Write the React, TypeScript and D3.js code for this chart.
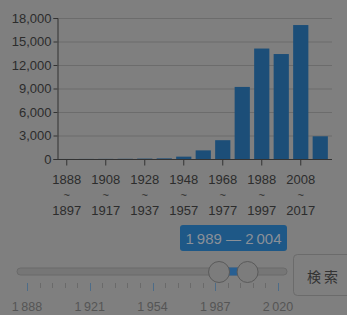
import React, { useEffect, useRef } from "react";
import * as d3 from "d3";

const decades = [1888, 1898, 1908, 1918, 1928, 1938, 1948, 1958, 1968, 1978, 1988, 1998, 2008, 2018];
const counts = [5, 10, 15, 25, 50, 80, 300, 1100, 2400, 9200, 14100, 13400, 17100, 2900];
const yTicks = [0, 3000, 6000, 9000, 12000, 15000, 18000];
const sliderLabels = [1888, 1921, 1954, 1987, 2020];
const selected = [1989, 2004];

const W = 347;
const H = 315;

export default function App() {
  const ref = useRef<SVGSVGElement | null>(null);

  useEffect(() => {
    const svg = d3.select(ref.current);
    svg.selectAll("*").remove();

    const font = "'Liberation Sans', Arial, sans-serif";
    const textCol = "#2c2c2c";

    svg.append("rect").attr("width", W).attr("height", H).attr("fill", "#7f7f7f");

    // bar chart
    const x = d3
      .scaleBand<number>()
      .domain(decades)
      .range([57, 330])
      .paddingInner(0.22)
      .paddingOuter(0.11);

    const y = d3.scaleLinear().domain([0, 18000]).range([159, 18]);

    // grid
    svg
      .append("g")
      .selectAll("line")
      .data(yTicks.filter((d) => d > 0))
      .join("line")
      .attr("x1", 58)
      .attr("x2", 332)
      .attr("y1", (d) => y(d) + 0.5)
      .attr("y2", (d) => y(d) + 0.5)
      .attr("stroke", "#6c6c6c");

    const yAxis = svg
      .append("g")
      .attr("transform", "translate(57.5,0)")
      .call(
        d3
          .axisLeft(y)
          .tickValues(yTicks)
          .tickSize(4)
          .tickFormat((d) => d3.format(",")(d as number))
      );
    yAxis.select(".domain").attr("stroke", "#333");
    yAxis.selectAll(".tick line").attr("stroke", "#333");
    yAxis
      .selectAll(".tick text")
      .attr("fill", textCol)
      .attr("font-family", font)
      .attr("font-size", 13)
      .attr("x", -6);

    svg
      .append("g")
      .selectAll("rect")
      .data(decades)
      .join("rect")
      .attr("x", (d) => x(d)!)
      .attr("width", x.bandwidth())
      .attr("y", (d, i) => y(counts[i]))
      .attr("height", (d, i) => 159 - y(counts[i]))
      .attr("fill", "#1c4e78");

    const xAxis = svg
      .append("g")
      .attr("transform", "translate(0,159.5)")
      .call(
        d3
          .axisBottom(x)
          .tickValues(decades.filter((d, i) => i % 2 === 0))
          .tickSize(6)
          .tickSizeOuter(0)
          .tickFormat(() => "")
      );
    xAxis.select(".domain").attr("stroke", "#333").attr("d", "M57,0H332");
    xAxis.selectAll(".tick line").attr("stroke", "#333");

    const lbl = xAxis.selectAll<SVGGElement, number>(".tick");
    lbl.selectAll("text").remove();
    const addLine = (yy: number, size: number, fn: (d: number) => string) =>
      lbl
        .append("text")
        .attr("fill", textCol)
        .attr("font-family", font)
        .attr("font-size", size)
        .attr("text-anchor", "middle")
        .attr("y", yy)
        .text(fn);
    addLine(24.5, 13, (d) => String(d));
    addLine(39, 11, () => "~");
    addLine(55.5, 13, (d) => String(d + 9));

    // range slider
    const s = d3.scaleLinear().domain([1888, 2020]).range([27, 278]);
    const fmt = (v: number) => d3.format(",")(v).replace(",", "\u2009");

    svg
      .append("rect")
      .attr("x", 180)
      .attr("y", 225)
      .attr("width", 107)
      .attr("height", 26)
      .attr("rx", 3)
      .attr("fill", "#1e5887");
    svg
      .append("text")
      .attr("x", 233.5)
      .attr("y", 243.5)
      .attr("text-anchor", "middle")
      .attr("fill", "#8a9098")
      .attr("font-family", font)
      .attr("font-size", 15)
      .text(`${fmt(selected[0])} \u2014 ${fmt(selected[1])}`);

    svg
      .append("rect")
      .attr("x", 17)
      .attr("y", 268)
      .attr("width", 270)
      .attr("height", 7)
      .attr("rx", 3.5)
      .attr("fill", "#767676")
      .attr("stroke", "#6a6a6a");

    svg
      .append("rect")
      .attr("x", s(selected[0]))
      .attr("y", 267.5)
      .attr("width", s(selected[1]) - s(selected[0]))
      .attr("height", 8)
      .attr("fill", "#285f92");

    svg
      .append("g")
      .selectAll("circle")
      .data(selected)
      .join("circle")
      .attr("cx", (d) => s(d))
      .attr("cy", 272)
      .attr("r", 10.5)
      .attr("fill", "#7c7c7c")
      .attr("stroke", "#5a5a5a");

    const stepTicks = d3.range(0, 21).map((i) => 1888 + (i * 132) / 20);
    svg
      .append("g")
      .selectAll("line")
      .data(stepTicks)
      .join("line")
      .attr("x1", (d) => Math.round(s(d)) + 0.5)
      .attr("x2", (d) => Math.round(s(d)) + 0.5)
      .attr("y1", 283)
      .attr("y2", (d, i) => (i % 5 === 0 ? 291 : 288))
      .attr("stroke", (d, i) => (i % 5 === 0 ? "#4d6c88" : "#6a6a6a"));

    svg
      .append("g")
      .selectAll("text")
      .data(sliderLabels)
      .join("text")
      .attr("x", (d) => s(d))
      .attr("y", 310.5)
      .attr("text-anchor", "middle")
      .attr("fill", "#555")
      .attr("font-family", font)
      .attr("font-size", 12.5)
      .text((d) => fmt(d));

    // button
    svg
      .append("rect")
      .attr("x", 293.5)
      .attr("y", 254.5)
      .attr("width", 60)
      .attr("height", 41)
      .attr("rx", 4)
      .attr("fill", "#7f7f7f")
      .attr("stroke", "#6b6b6b");
    svg
      .append("text")
      .attr("x", 324)
      .attr("y", 282)
      .attr("text-anchor", "middle")
      .attr("fill", "#333")
      .attr("font-family", "'Noto Sans CJK JP', sans-serif")
      .attr("font-size", 14)
      .attr("letter-spacing", 3)
      .text("検索");
  }, []);

  return (
    <div style={{ position: "fixed", left: 0, top: 0 }}>
      <svg ref={ref} width={W} height={H} style={{ display: "block" }}></svg>
    </div>
  );
}
